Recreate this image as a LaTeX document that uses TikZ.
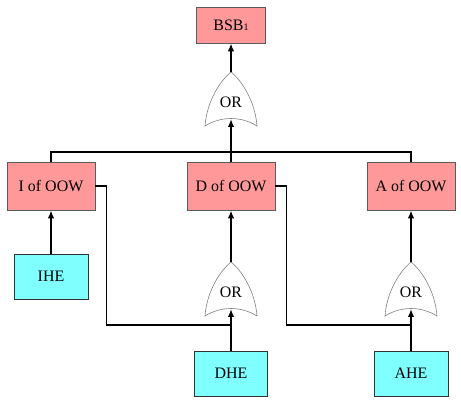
\documentclass[tikz,border=0pt]{standalone}
\usepackage{fontspec}
\setmainfont{Liberation Serif}
\usetikzlibrary{arrows.meta}
\definecolor{evpink}{RGB}{255,153,153}
\definecolor{evcyan}{RGB}{128,255,255}
\definecolor{edgegray}{RGB}{90,90,90}
\begin{document}
\begin{tikzpicture}[x=1bp,y=-1bp,
  font=\fontsize{16}{18}\selectfont,
  evbox/.style={draw=edgegray,line width=0.8pt,fill=evpink,minimum width=88bp,minimum height=48bp,inner sep=0pt,anchor=center},
  basebox/.style={draw=black!80,line width=0.9pt,fill=evcyan,minimum width=74bp,minimum height=45bp,inner sep=0pt,anchor=center},
  conn/.style={line width=1.6pt,black},
  arr/.style={conn,-{Latex[length=8pt,width=6.5pt]}},
  orgate/.pic={
    \path[draw=gray,line width=0.6pt,fill=white]
      (0,0) .. controls (10,8) and (24,28) .. (26,54)
      .. controls (10,44) and (-10,44) .. (-26,54)
      .. controls (-24,28) and (-10,8) .. (0,0) -- cycle;
    \node at (0,30) {OR};
    \coordinate (-out) at (0,0);
    \coordinate (-in) at (0,47);
  }]
\useasboundingbox (0,0) rectangle (461,402);
% nodes
\node[evbox,minimum width=69bp,minimum height=36bp] (top) at (231,25) {BSB\raisebox{-0.5pt}{\fontsize{10}{12}\selectfont 1}};
\pic (g1) at (231,72) {orgate};
\node[evbox] (I) at (51,186) {I of OOW};
\node[evbox] (D) at (231,186) {D of OOW};
\node[evbox] (A) at (411,186) {A of OOW};
\node[basebox] (IHE) at (51,276.5) {IHE};
\pic (g2) at (231,262) {orgate};
\pic (g3) at (411,262) {orgate};
\node[basebox,minimum width=73bp] (DHE) at (231,373.5) {DHE};
\node[basebox] (AHE) at (411,373.5) {AHE};
\coordinate (bus) at (231,152);
\coordinate (jD) at (231,325);
\coordinate (jA) at (411,325);
% connectors
\draw[arr] (g1-out) -- (top.south);
\draw[conn] (I.north) |- (bus) -| (A.north);
\draw[arr] (D.north) -- (g1-in);
\draw[arr] (IHE.north) -- (I.south);
\draw[arr] (g2-out) -- (D.south);
\draw[arr] (g3-out) -- (A.south);
\draw[conn] (I.east) -- ++(11,0) |- (jD);
\draw[conn] (D.east) -- ++(11,0) |- (jA);
\draw[arr] (DHE.north) -- (g2-in);
\draw[arr] (AHE.north) -- (g3-in);
\end{tikzpicture}
\end{document}
